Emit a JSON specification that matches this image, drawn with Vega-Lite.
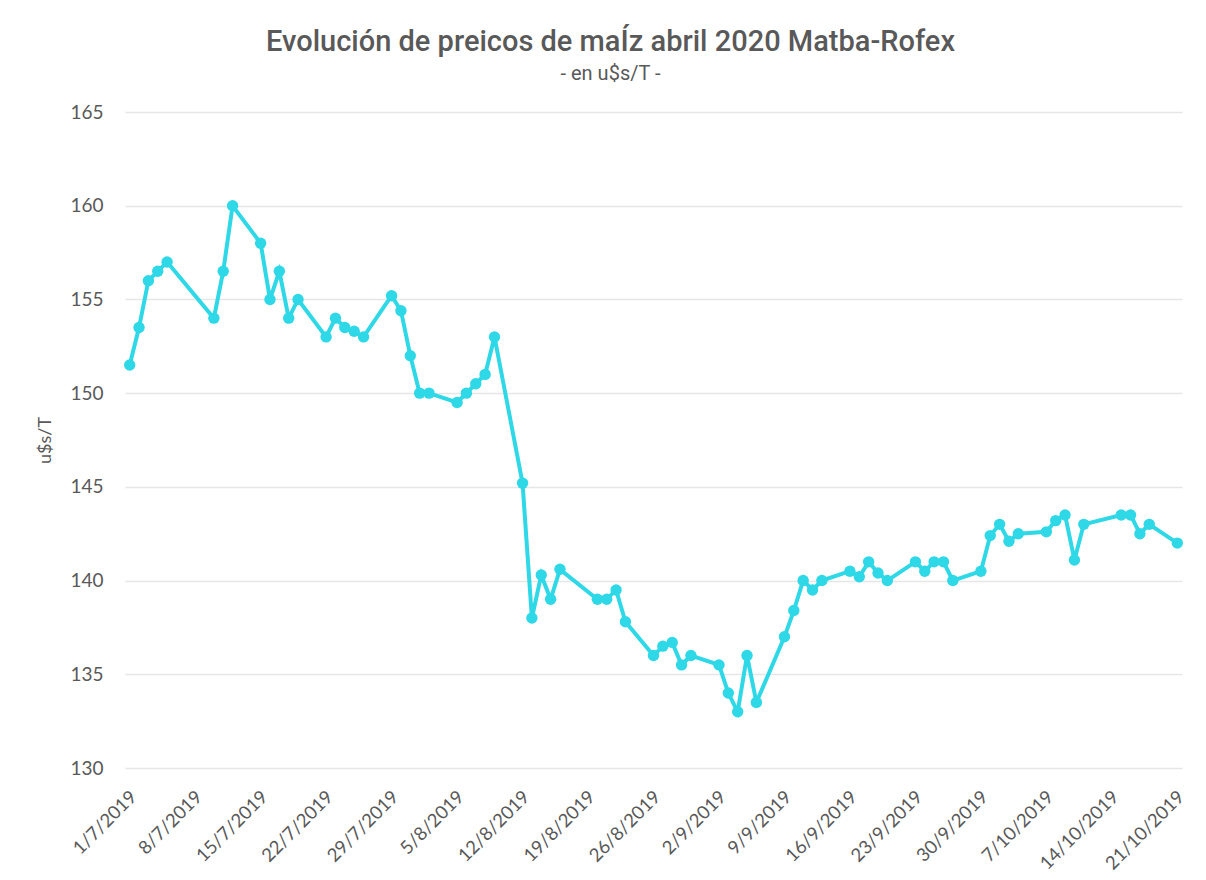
{
  "$schema": "https://vega.github.io/schema/vega-lite/v6.json",
  "width": 1057,
  "height": 656,
  "autosize": {"type": "none"},
  "padding": {"left": 125, "top": 112, "right": 24, "bottom": 112},
  "background": "white",
  "title": {
    "text": "Evolución de preicos de maÍz abril 2020 Matba-Rofex",
    "subtitle": "- en u$s/T -",
    "anchor": "middle",
    "dx": -43,
    "offset": 19,
    "font": "Roboto",
    "fontSize": 29,
    "fontWeight": 500,
    "color": "#595959",
    "subtitleFont": "Roboto",
    "subtitleFontSize": 20,
    "subtitleColor": "#595959",
    "subtitlePadding": 7
  },
  "config": {
    "view": {"stroke": null},
    "axis": {
      "labelFont": "Lato",
      "titleFont": "Lato",
      "labelColor": "#595959",
      "titleColor": "#595959",
      "gridColor": "#e6e6e6",
      "gridWidth": 1.5,
      "domain": false,
      "ticks": false
    }
  },
  "data": {
    "values": [
      {"fecha": "2019-07-01", "precio": 151.5},
      {"fecha": "2019-07-02", "precio": 153.5},
      {"fecha": "2019-07-03", "precio": 156.0},
      {"fecha": "2019-07-04", "precio": 156.5},
      {"fecha": "2019-07-05", "precio": 157.0},
      {"fecha": "2019-07-10", "precio": 154.0},
      {"fecha": "2019-07-11", "precio": 156.5},
      {"fecha": "2019-07-12", "precio": 160.0},
      {"fecha": "2019-07-15", "precio": 158.0},
      {"fecha": "2019-07-16", "precio": 155.0},
      {"fecha": "2019-07-17", "precio": 156.5},
      {"fecha": "2019-07-18", "precio": 154.0},
      {"fecha": "2019-07-19", "precio": 155.0},
      {"fecha": "2019-07-22", "precio": 153.0},
      {"fecha": "2019-07-23", "precio": 154.0},
      {"fecha": "2019-07-24", "precio": 153.5},
      {"fecha": "2019-07-25", "precio": 153.3},
      {"fecha": "2019-07-26", "precio": 153.0},
      {"fecha": "2019-07-29", "precio": 155.2},
      {"fecha": "2019-07-30", "precio": 154.4},
      {"fecha": "2019-07-31", "precio": 152.0},
      {"fecha": "2019-08-01", "precio": 150.0},
      {"fecha": "2019-08-02", "precio": 150.0},
      {"fecha": "2019-08-05", "precio": 149.5},
      {"fecha": "2019-08-06", "precio": 150.0},
      {"fecha": "2019-08-07", "precio": 150.5},
      {"fecha": "2019-08-08", "precio": 151.0},
      {"fecha": "2019-08-09", "precio": 153.0},
      {"fecha": "2019-08-12", "precio": 145.2},
      {"fecha": "2019-08-13", "precio": 138.0},
      {"fecha": "2019-08-14", "precio": 140.3},
      {"fecha": "2019-08-15", "precio": 139.0},
      {"fecha": "2019-08-16", "precio": 140.6},
      {"fecha": "2019-08-20", "precio": 139.0},
      {"fecha": "2019-08-21", "precio": 139.0},
      {"fecha": "2019-08-22", "precio": 139.5},
      {"fecha": "2019-08-23", "precio": 137.8},
      {"fecha": "2019-08-26", "precio": 136.0},
      {"fecha": "2019-08-27", "precio": 136.5},
      {"fecha": "2019-08-28", "precio": 136.7},
      {"fecha": "2019-08-29", "precio": 135.5},
      {"fecha": "2019-08-30", "precio": 136.0},
      {"fecha": "2019-09-02", "precio": 135.5},
      {"fecha": "2019-09-03", "precio": 134.0},
      {"fecha": "2019-09-04", "precio": 133.0},
      {"fecha": "2019-09-05", "precio": 136.0},
      {"fecha": "2019-09-06", "precio": 133.5},
      {"fecha": "2019-09-09", "precio": 137.0},
      {"fecha": "2019-09-10", "precio": 138.4},
      {"fecha": "2019-09-11", "precio": 140.0},
      {"fecha": "2019-09-12", "precio": 139.5},
      {"fecha": "2019-09-13", "precio": 140.0},
      {"fecha": "2019-09-16", "precio": 140.5},
      {"fecha": "2019-09-17", "precio": 140.2},
      {"fecha": "2019-09-18", "precio": 141.0},
      {"fecha": "2019-09-19", "precio": 140.4},
      {"fecha": "2019-09-20", "precio": 140.0},
      {"fecha": "2019-09-23", "precio": 141.0},
      {"fecha": "2019-09-24", "precio": 140.5},
      {"fecha": "2019-09-25", "precio": 141.0},
      {"fecha": "2019-09-26", "precio": 141.0},
      {"fecha": "2019-09-27", "precio": 140.0},
      {"fecha": "2019-09-30", "precio": 140.5},
      {"fecha": "2019-10-01", "precio": 142.4},
      {"fecha": "2019-10-02", "precio": 143.0},
      {"fecha": "2019-10-03", "precio": 142.1},
      {"fecha": "2019-10-04", "precio": 142.5},
      {"fecha": "2019-10-07", "precio": 142.6},
      {"fecha": "2019-10-08", "precio": 143.2},
      {"fecha": "2019-10-09", "precio": 143.5},
      {"fecha": "2019-10-10", "precio": 141.1},
      {"fecha": "2019-10-11", "precio": 143.0},
      {"fecha": "2019-10-15", "precio": 143.5},
      {"fecha": "2019-10-16", "precio": 143.5},
      {"fecha": "2019-10-17", "precio": 142.5},
      {"fecha": "2019-10-18", "precio": 143.0},
      {"fecha": "2019-10-21", "precio": 142.0}
    ]
  },
  "mark": {
    "type": "line",
    "color": "#2fd8e6",
    "strokeWidth": 4,
    "point": {"filled": true, "size": 130, "color": "#2fd8e6", "opacity": 1}
  },
  "encoding": {
    "x": {
      "field": "fecha",
      "type": "temporal",
      "title": null,
      "scale": {
        "type": "utc",
        "domain": [
          {"year": 2019, "month": 6, "date": 30, "hours": 12, "utc": true},
          {"year": 2019, "month": 10, "date": 21, "hours": 12, "utc": true}
        ]
      },
      "axis": {
        "values": [
          {"year": 2019, "month": 7, "date": 1, "utc": true},
          {"year": 2019, "month": 7, "date": 8, "utc": true},
          {"year": 2019, "month": 7, "date": 15, "utc": true},
          {"year": 2019, "month": 7, "date": 22, "utc": true},
          {"year": 2019, "month": 7, "date": 29, "utc": true},
          {"year": 2019, "month": 8, "date": 5, "utc": true},
          {"year": 2019, "month": 8, "date": 12, "utc": true},
          {"year": 2019, "month": 8, "date": 19, "utc": true},
          {"year": 2019, "month": 8, "date": 26, "utc": true},
          {"year": 2019, "month": 9, "date": 2, "utc": true},
          {"year": 2019, "month": 9, "date": 9, "utc": true},
          {"year": 2019, "month": 9, "date": 16, "utc": true},
          {"year": 2019, "month": 9, "date": 23, "utc": true},
          {"year": 2019, "month": 9, "date": 30, "utc": true},
          {"year": 2019, "month": 10, "date": 7, "utc": true},
          {"year": 2019, "month": 10, "date": 14, "utc": true},
          {"year": 2019, "month": 10, "date": 21, "utc": true}
        ],
        "labelExpr": "utcFormat(datum.value, '%-d/%-m/%Y')",
        "labelAngle": -45,
        "labelAlign": "right",
        "labelBaseline": "top",
        "labelFontSize": 18.5,
        "labelPadding": 19,
        "labelOffset": -3,
        "grid": false,
        "labelOverlap": false,
        "labelBound": false,
        "labelFlush": false
      }
    },
    "y": {
      "field": "precio",
      "type": "quantitative",
      "title": "u$s/T",
      "scale": {"domain": [130, 165], "zero": false, "nice": false},
      "axis": {
        "values": [130, 135, 140, 145, 150, 155, 160, 165],
        "labelFontSize": 19,
        "labelPadding": 22,
        "titleFontSize": 18,
        "titleFontWeight": "normal",
        "titlePadding": 15,
        "grid": true
      }
    }
  }
}
